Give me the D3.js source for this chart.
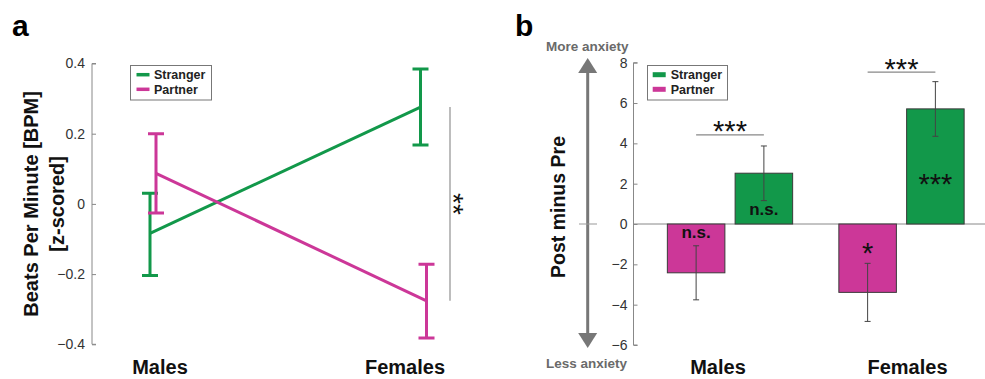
<!DOCTYPE html>
<html><head><meta charset="utf-8">
<script src="https://cdn.jsdelivr.net/npm/d3@7"></script>
<style>body{margin:0;background:#fff}svg{display:block;font-family:"Liberation Sans",Arial,sans-serif}</style>
</head><body><svg id="c" width="985" height="379"></svg>
<script>
// ---------- data ----------
const groups = ["Males", "Females"];
const series = ["Stranger", "Partner"];
// panel a: BPM z-scored (mean, upper, lower)
const bpmStrangerMean = [-0.084, 0.276];
const bpmStrangerHi   = [0.030, 0.384];
const bpmStrangerLo   = [-0.204, 0.168];
const bpmPartnerMean  = [0.087, -0.276];
const bpmPartnerHi    = [0.200, -0.172];
const bpmPartnerLo    = [-0.026, -0.382];
const ticksA = [-0.4, -0.2, 0, 0.2, 0.4];
// panel b: anxiety post minus pre
const anxPartner   = [-2.42, -3.39];
const anxPartnerHi = [-1.08, -1.95];
const anxPartnerLo = [-3.76, -4.83];
const anxStranger   = [2.52, 5.71];
const anxStrangerHi = [3.87, 7.06];
const anxStrangerLo = [1.16, 4.35];
const ticksB = [-6, -4, -2, 0, 2, 4, 6, 8];
const pairSig = ["***", "***"];
const partnerSig = ["n.s.", "*"];
const strangerSig = ["n.s.", "***"];

const GREEN = "#12984a", MAGENTA = "#cc3798";
const svg = d3.select("#c");

// ================= panel a =================
const ya = d3.scaleLinear().domain([-0.4, 0.4]).range([344.3, 63.5]);
const xa = d3.scalePoint().domain(groups).range([153, 423.5]);
const xaLab = d3.scalePoint().domain(groups).range([160, 405]);
const offA = {Stranger: -3, Partner: 3};
const colA = {Stranger: GREEN, Partner: MAGENTA};
const gA = svg.append("g");

gA.append("text").attr("x", 12).attr("y", 36).attr("font-size", 30).attr("font-weight", "bold").text("a");

const axA = gA.append("g").attr("transform", "translate(92,0)")
  .call(d3.axisRight(ya).tickValues(ticksA).tickSize(4).tickFormat(d => d === 0 ? "0" : d3.format(".1f")(d)));
axA.select(".domain").attr("stroke", "#888").attr("d", `M4,${ya(-0.4)}H0V${ya(0.4)}H4`);
axA.selectAll(".tick line").attr("stroke", "#888");
axA.selectAll(".tick text").attr("x", -7).attr("text-anchor", "end").attr("font-size", 14).attr("fill", "#333").attr("font-family", "Liberation Sans, Arial");

gA.append("text").attr("transform", `translate(38,${ya(0)}) rotate(-90)`).attr("text-anchor", "middle")
  .attr("font-size", 20).attr("font-weight", "bold").attr("fill", "#111").text("Beats Per Minute [BPM]");
gA.append("text").attr("transform", `translate(64,${ya(0)}) rotate(-90)`).attr("text-anchor", "middle")
  .attr("font-size", 20).attr("font-weight", "bold").attr("fill", "#111").text("[z-scored]");

const seriesA = [
  {name: "Stranger", mean: bpmStrangerMean, hi: bpmStrangerHi, lo: bpmStrangerLo},
  {name: "Partner", mean: bpmPartnerMean, hi: bpmPartnerHi, lo: bpmPartnerLo}
];
seriesA.forEach(s => {
  const px = g => xa(g) + offA[s.name];
  const pts = groups.map((g, i) => [px(g), ya(s.mean[i])]);
  gA.append("path").attr("d", d3.line()(pts)).attr("fill", "none").attr("stroke", colA[s.name]).attr("stroke-width", 3);
  groups.forEach((g, i) => {
    const x = px(g);
    gA.append("path").attr("d", `M${x},${ya(s.hi[i])}V${ya(s.lo[i])}M${x-8},${ya(s.hi[i])}H${x+8}M${x-8},${ya(s.lo[i])}H${x+8}`)
      .attr("stroke", colA[s.name]).attr("stroke-width", 3).attr("fill", "none");
  });
});

// significance a
const sigX = 450;
gA.append("line").attr("x1", sigX).attr("x2", sigX).attr("y1", ya(bpmStrangerMean[1])).attr("y2", ya(bpmPartnerMean[1]))
  .attr("stroke", "#999").attr("stroke-width", 1.3);
gA.append("text").attr("transform", `translate(444,${(ya(bpmStrangerMean[1]) + ya(bpmPartnerMean[1])) / 2}) rotate(90)`)
  .attr("text-anchor", "middle").attr("font-size", 28).attr("fill", "#111").text("**");

// labels a
groups.forEach(g => gA.append("text").attr("x", xaLab(g)).attr("y", 374).attr("text-anchor", "middle")
  .attr("font-size", 20).attr("font-weight", "bold").attr("fill", "#111").text(g));

// legend a
const lgA = gA.append("g");
lgA.append("rect").attr("x", 130.5).attr("y", 65.5).attr("width", 81).attr("height", 34.5).attr("fill", "#fff").attr("stroke", "#777");
series.forEach((s, i) => {
  const y = 74.7 + i * 14.6;
  lgA.append("line").attr("x1", 136.5).attr("x2", 149.5).attr("y1", y).attr("y2", y).attr("stroke", colA[s]).attr("stroke-width", 3.5);
  lgA.append("text").attr("x", 154).attr("y", y + 4.5).attr("font-size", 12.5).attr("font-weight", "bold").attr("fill", "#222").text(s);
});

// ================= panel b =================
const yb = d3.scaleLinear().domain([-6, 8]).range([345, 62.7]);
const x0 = d3.scaleBand().domain(groups).range([644.25, 987.25]);
const x1 = d3.scaleBand().domain(["Partner", "Stranger"]).range([0, x0.bandwidth()]).paddingInner(0.151).paddingOuter(0.341);
const xbLab = d3.scalePoint().domain(groups).range([718, 907.5]);
const gB = svg.append("g");

gB.append("text").attr("x", 515).attr("y", 36).attr("font-size", 30).attr("font-weight", "bold").text("b");

// zero line
gB.append("line").attr("x1", 633.5).attr("x2", 985).attr("y1", yb(0)).attr("y2", yb(0)).attr("stroke", "#888").attr("stroke-width", 1);

const axB = gB.append("g").attr("transform", "translate(633.5,0)")
  .call(d3.axisRight(yb).tickValues(ticksB).tickSize(4).tickFormat(d3.format("d")));
axB.select(".domain").attr("stroke", "#888").attr("d", `M4,${yb(-6)}H0V${yb(8)}H4`);
axB.selectAll(".tick line").attr("stroke", "#888");
axB.selectAll(".tick text").attr("x", -6).attr("text-anchor", "end").attr("font-size", 14).attr("fill", "#333").attr("font-family", "Liberation Sans, Arial");

// bars
const barsB = [
  {name: "Partner", vals: anxPartner, hi: anxPartnerHi, lo: anxPartnerLo, sig: partnerSig},
  {name: "Stranger", vals: anxStranger, hi: anxStrangerHi, lo: anxStrangerLo, sig: strangerSig}
];
const colB = {Stranger: GREEN, Partner: MAGENTA};
barsB.forEach(s => {
  groups.forEach((g, i) => {
    const x = x0(g) + x1(s.name);
    const v = s.vals[i];
    gB.append("rect").attr("x", x).attr("width", x1.bandwidth())
      .attr("y", yb(Math.max(0, v))).attr("height", Math.abs(yb(v) - yb(0)))
      .attr("fill", colB[s.name]).attr("stroke", "#3a3a3a").attr("stroke-width", 1);
  });
});
barsB.forEach(s => {
  groups.forEach((g, i) => {
    const cx = x0(g) + x1(s.name) + x1.bandwidth() / 2;
    gB.append("path").attr("d", `M${cx},${yb(s.hi[i])}V${yb(s.lo[i])}M${cx-3},${yb(s.hi[i])}H${cx+3}M${cx-3},${yb(s.lo[i])}H${cx+3}`)
      .attr("stroke", "#444").attr("stroke-width", 1).attr("fill", "none");
  });
});

// in-bar significance labels
const sigPos = [
  {name: "Stranger", y: [0.47, 1.51]},
  {name: "Partner", y: [-0.67, -1.95]}
];
sigPos.forEach(p => {
  const s = barsB.find(b => b.name === p.name);
  groups.forEach((g, i) => {
    const cx = x0(g) + x1(p.name) + x1.bandwidth() / 2;
    const lab = s.sig[i];
    gB.append("text").attr("x", cx).attr("y", yb(p.y[i])).attr("text-anchor", "middle")
      .attr("font-size", lab === "n.s." ? 17 : 29).attr("font-weight", lab === "n.s." ? "bold" : "normal")
      .attr("fill", "#111").text(lab);
  });
});

// pair brackets
const bracketY = [4.42, 7.53];
groups.forEach((g, i) => {
  const xa1 = x0(g) + x1("Partner") + x1.bandwidth() / 2;
  const xa2 = x0(g) + x1("Stranger") + x1.bandwidth() / 2;
  gB.append("line").attr("x1", xa1).attr("x2", xa2).attr("y1", yb(bracketY[i])).attr("y2", yb(bracketY[i]))
    .attr("stroke", "#888").attr("stroke-width", 1.2);
  gB.append("text").attr("x", (xa1 + xa2) / 2).attr("y", yb(bracketY[i]) + 6.5).attr("text-anchor", "middle")
    .attr("font-size", 29).attr("fill", "#111").text(pairSig[i]);
});

// anxiety arrow
const arX = 587.7;
gB.append("line").attr("x1", arX).attr("x2", arX).attr("y1", 70).attr("y2", 336).attr("stroke", "#777").attr("stroke-width", 3);
gB.append("path").attr("d", `M${arX},58L${arX-9.5},73L${arX+9.5},73Z`).attr("fill", "#777");
gB.append("path").attr("d", `M${arX},348L${arX-9.5},333L${arX+9.5},333Z`).attr("fill", "#777");
gB.append("line").attr("x1", 579).attr("x2", 597).attr("y1", yb(0)).attr("y2", yb(0)).attr("stroke", "#999").attr("stroke-width", 1);
gB.append("text").attr("x", 546).attr("y", 50.5).attr("font-size", 13.5).attr("font-weight", "bold").attr("fill", "#6a6a6a").text("More anxiety");
gB.append("text").attr("x", 546).attr("y", 368).attr("font-size", 13.5).attr("font-weight", "bold").attr("fill", "#6a6a6a").text("Less anxiety");

gB.append("text").attr("transform", `translate(565,207) rotate(-90)`).attr("text-anchor", "middle")
  .attr("font-size", 19.5).attr("font-weight", "bold").attr("fill", "#111").text("Post minus Pre");

groups.forEach(g => gB.append("text").attr("x", xbLab(g)).attr("y", 374).attr("text-anchor", "middle")
  .attr("font-size", 20).attr("font-weight", "bold").attr("fill", "#111").text(g));

// legend b
const lgB = gB.append("g");
lgB.append("rect").attr("x", 647.5).attr("y", 65.5).attr("width", 80).attr("height", 34.5).attr("fill", "#fff").attr("stroke", "#777");
series.forEach((s, i) => {
  const y = 74.7 + i * 14.6;
  lgB.append("rect").attr("x", 652.7).attr("y", y - 2.5).attr("width", 13).attr("height", 5).attr("fill", colB[s]);
  lgB.append("text").attr("x", 670.7).attr("y", y + 4.5).attr("font-size", 12.5).attr("font-weight", "bold").attr("fill", "#222").text(s);
});
</script></body></html>
